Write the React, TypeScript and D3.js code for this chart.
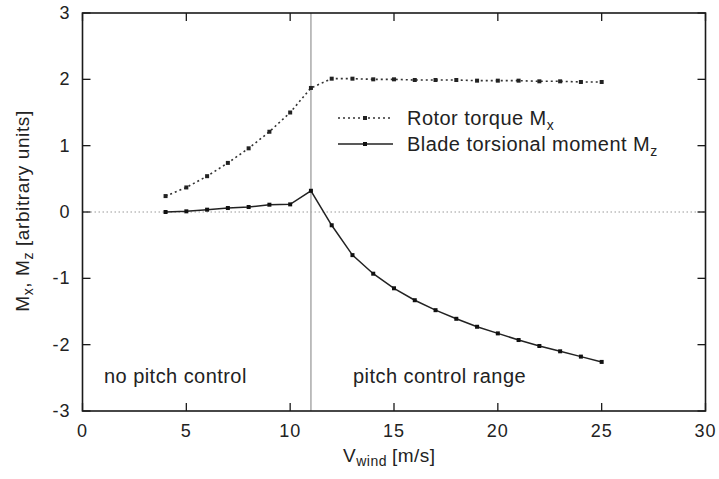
import React from "react";
import * as d3 from "d3";

const windSpeeds = [4, 5, 6, 7, 8, 9, 10, 11, 12, 13, 14, 15, 16, 17, 18, 19, 20, 21, 22, 23, 24, 25];
const rotorTorque = [0.24, 0.37, 0.54, 0.74, 0.96, 1.21, 1.5, 1.87, 2.01, 2.01, 2.0, 2.0, 1.99, 1.99, 1.99, 1.98, 1.98, 1.98, 1.97, 1.97, 1.96, 1.96];
const bladeMoment = [0.0, 0.01, 0.035, 0.06, 0.075, 0.11, 0.115, 0.32, -0.2, -0.65, -0.93, -1.15, -1.33, -1.48, -1.61, -1.73, -1.83, -1.93, -2.02, -2.1, -2.18, -2.26];
const xTicks = [0, 5, 10, 15, 20, 25, 30];
const yTicks = [-3, -2, -1, 0, 1, 2, 3];
const ratedSpeed = 11;

const W = 719, H = 479;
const FONT = "'Liberation Sans', Arial, Helvetica, sans-serif";

export default function App() {
  const x = d3.scaleLinear().domain([0, 30]).range([82.5, 705.5]);
  const y = d3.scaleLinear().domain([-3, 3]).range([411, 13]);
  const line = d3.line<[number, number]>().x(d => x(d[0])).y(d => y(d[1]));
  const rt: [number, number][] = windSpeeds.map((v, i) => [v, rotorTorque[i]]);
  const bm: [number, number][] = windSpeeds.map((v, i) => [v, bladeMoment[i]]);
  const [x0, x1] = x.range();
  const [yb, yt] = y.range();
  const tickLen = 8;
  const ink = "#1a1a1a";
  const big = { fontSize: 20, letterSpacing: 0.45, fill: "#222" } as const;
  return (
    <svg width={W} height={H} style={{ position: "absolute", left: 0, top: 0, background: "#fff" }} fontFamily={FONT}>
      <rect x={0} y={0} width={W} height={H} fill="#fff" />
      {/* zero line */}
      <line x1={x0} x2={x1} y1={y(0)} y2={y(0)} stroke="#999" strokeWidth={1} strokeDasharray="1.5,2.5" />
      {/* rated speed line */}
      <line x1={x(ratedSpeed)} x2={x(ratedSpeed)} y1={yt} y2={yb} stroke="#aaa" strokeWidth={1.5} />
      {/* ticks */}
      {xTicks.map(t => (
        <g key={"xt" + t}>
          <line x1={x(t)} x2={x(t)} y1={yb} y2={yb - tickLen} stroke={ink} strokeWidth={1.3} />
          <line x1={x(t)} x2={x(t)} y1={yt} y2={yt + tickLen} stroke={ink} strokeWidth={1.3} />
          <text x={x(t)} y={yb + 26} fontSize={18} letterSpacing={1} textAnchor="middle" fill="#222">{t}</text>
        </g>
      ))}
      {yTicks.map(t => (
        <g key={"yt" + t}>
          <line x1={x0} x2={x0 + tickLen} y1={y(t)} y2={y(t)} stroke={ink} strokeWidth={1.3} />
          <line x1={x1} x2={x1 - tickLen} y1={y(t)} y2={y(t)} stroke={ink} strokeWidth={1.3} />
          <text x={x0 - 12} y={y(t) + 6} fontSize={18} letterSpacing={1} textAnchor="end" fill="#222">{t}</text>
        </g>
      ))}
      {/* series */}
      <path d={line(rt) || ""} fill="none" stroke="#333" strokeWidth={1.6} strokeDasharray="2,3" />
      {rt.map((d, i) => (
        <rect key={"rp" + i} x={x(d[0]) - 2} y={y(d[1]) - 2} width={4} height={4} fill="#222" />
      ))}
      <path d={line(bm) || ""} fill="none" stroke="#222" strokeWidth={1.5} />
      {bm.map((d, i) => (
        <rect key={"bp" + i} x={x(d[0]) - 2} y={y(d[1]) - 2} width={4} height={4} fill="#111" />
      ))}
      {/* frame */}
      <rect x={x0} y={yt} width={x1 - x0} height={yb - yt} fill="none" stroke={ink} strokeWidth={1.6} />
      {/* legend */}
      <line x1={338} x2={393} y1={118} y2={118} stroke="#333" strokeWidth={1.6} strokeDasharray="2,3" />
      <rect x={363} y={116} width={4} height={4} fill="#222" />
      <text x={407} y={125} {...big}>Rotor torque M<tspan fontSize={14} dy={5}>x</tspan></text>
      <line x1={338} x2={393} y1={144} y2={144} stroke="#222" strokeWidth={1.5} />
      <rect x={363} y={142} width={4} height={4} fill="#111" />
      <text x={407} y={151} {...big}>Blade torsional moment M<tspan fontSize={14} dy={5}>z</tspan></text>
      {/* annotations */}
      <text x={104} y={383} {...big}>no pitch control</text>
      <text x={353} y={383} {...big}>pitch control range</text>
      {/* axis titles */}
      <text x={343} y={462} fontSize={19} letterSpacing={0.5} fill="#222">V<tspan fontSize={14} dy={4}>wind</tspan><tspan dy={-4} dx={5}>[m/s]</tspan></text>
      <text transform={`translate(29, 211) rotate(-90)`} fontSize={19} letterSpacing={0.6} textAnchor="middle" fill="#222">
        M<tspan fontSize={14} dy={4}>x</tspan><tspan dy={-4}>, M</tspan><tspan fontSize={14} dy={4}>z</tspan><tspan dy={-4}> [arbitrary units]</tspan>
      </text>
    </svg>
  );
}
